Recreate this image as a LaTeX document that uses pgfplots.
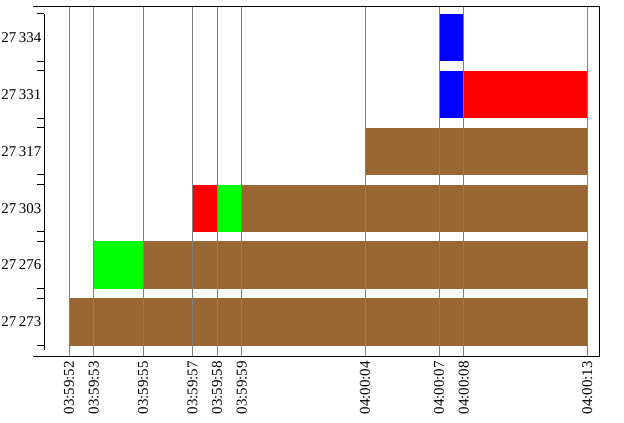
\documentclass[border=0pt]{standalone}
\usepackage{pgfplots}
\pgfplotsset{compat=1.18}
\usepackage{fontspec}
\setmainfont{Liberation Serif}
\definecolor{barbrown}{RGB}{153,102,51}
\definecolor{gridgray}{RGB}{128,128,128}
\begin{document}
\begin{tikzpicture}
\begin{axis}[
  scale only axis, width=566bp, height=349bp,
  xmin=-1.46, xmax=21.48, ymin=-0.598, ymax=5.536,
  axis line style={draw=none},
  axis on top,
  xtick={0,1,3,5,6,7,12,15,16,21},
  xticklabels={03:59:52,03:59:53,03:59:55,03:59:57,03:59:58,03:59:59,04:00:04,04:00:07,04:00:08,04:00:13},
  xmajorgrids, major grid style={gridgray, line width=1bp},
  major tick length=0pt,
  xticklabel style={rotate=90, anchor=east, inner sep=0pt},
  xticklabel shift=5bp,
  ytick={0,1,2,3,4,5},
  yticklabels={27\,273,27\,276,27\,303,27\,317,27\,331,27\,334},
  yticklabel style={anchor=east, inner sep=0pt},
  yticklabel shift=-8.5bp,
  tick label style={font=\fontsize{15}{18}\selectfont},
  clip=false,
]
% row 0: 27273
\addplot[fill=barbrown, draw=none] coordinates {(0,-0.415) (21,-0.415) (21,0.415) (0,0.415)} --cycle;
% row 1: 27276
\addplot[fill=green, draw=none] coordinates {(1,0.585) (3,0.585) (3,1.415) (1,1.415)} --cycle;
\addplot[fill=barbrown, draw=none] coordinates {(3,0.585) (21,0.585) (21,1.415) (3,1.415)} --cycle;
% row 2: 27303
\addplot[fill=red, draw=none] coordinates {(5,1.585) (6,1.585) (6,2.415) (5,2.415)} --cycle;
\addplot[fill=green, draw=none] coordinates {(6,1.585) (7,1.585) (7,2.415) (6,2.415)} --cycle;
\addplot[fill=barbrown, draw=none] coordinates {(7,1.585) (21,1.585) (21,2.415) (7,2.415)} --cycle;
% row 3: 27317
\addplot[fill=barbrown, draw=none] coordinates {(12,2.585) (21,2.585) (21,3.415) (12,3.415)} --cycle;
% row 4: 27331
\addplot[fill=blue, draw=none] coordinates {(15,3.585) (16,3.585) (16,4.415) (15,4.415)} --cycle;
\addplot[fill=red, draw=none] coordinates {(16,3.585) (21,3.585) (21,4.415) (16,4.415)} --cycle;
% row 5: 27334
\addplot[fill=blue, draw=none] coordinates {(15,4.585) (16,4.585) (16,5.415) (15,5.415)} --cycle;
% frame
\draw[black, line width=1bp] (rel axis cs:0,1) -- (rel axis cs:1,1) -- (rel axis cs:1,0) -- (rel axis cs:0,0);
\draw[black, line width=1bp] (axis cs:-1.013,-0.492) -- (axis cs:-1.013,5.413);
\pgfplotsinvokeforeach{-0.415,0.415,0.585,1.415,1.585,2.415,2.585,3.415,3.585,4.415,4.585,5.415}{
  \draw[black, line width=1bp] (axis cs:-1.297,#1) -- (axis cs:-1.013,#1);
}
\coordinate (bl) at (rel axis cs:0,0);
\end{axis}
\pgfresetboundingbox
\path (bl) ++(-33bp,-67bp) rectangle ++(624bp,423bp);
\end{tikzpicture}
\end{document}
